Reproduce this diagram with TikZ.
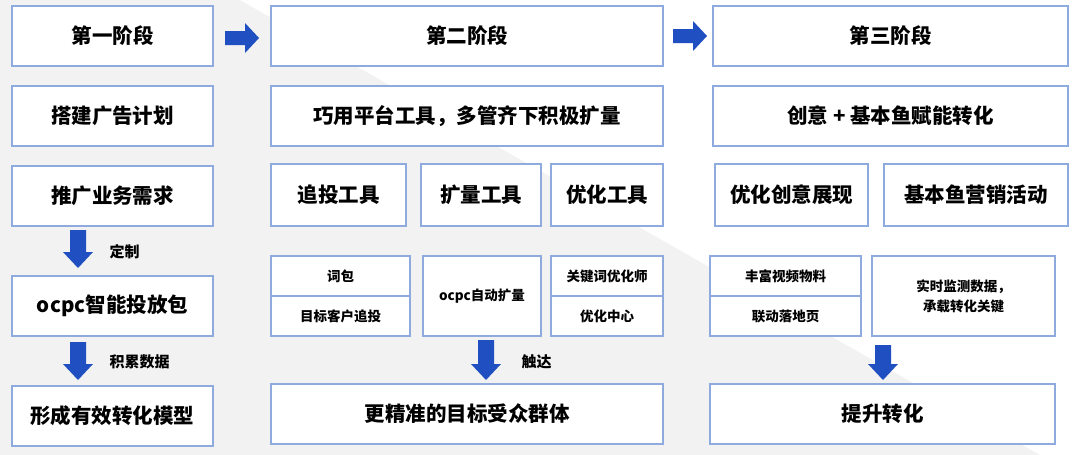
\documentclass[tikz,border=0pt]{standalone}
\usepackage{fontspec}
\setmainfont{Noto Sans CJK SC}[BoldFont={* Black}]
\definecolor{bd}{HTML}{8FAADC}
\definecolor{ar}{HTML}{1F4FC1}
\definecolor{bg}{HTML}{F2F2F2}
\begin{document}
\begin{tikzpicture}[x=1pt,y=-1pt,
  bx/.style={draw=bd,line width=1.2pt,fill=white},
  big/.style={font=\bfseries\fontsize{20.5}{24}\selectfont},
  sm/.style={font=\bfseries\fontsize{13.5}{16}\selectfont},
  lb/.style={font=\bfseries\fontsize{15}{16}\selectfont,anchor=west}]
\useasboundingbox (0,0) rectangle (1080,455);
\fill[bg] (0,0) rectangle (1080,455);
\fill[white] (240,0) -- (1080,0) -- (1080,455) -- (1040,455) -- cycle;
\newcommand\rarr[2]{\fill[ar] (#1,#2-7) -- (#1+20,#2-7) -- (#1+20,#2-15) -- (#1+34,#2) -- (#1+20,#2+15) -- (#1+20,#2+7) -- (#1,#2+7) -- cycle;}
\newcommand\darr[3]{\fill[ar] (#1-8,#2) -- (#1+8,#2) -- (#1+8,#3-16) -- (#1+15,#3-16) -- (#1,#3) -- (#1-15,#3-16) -- (#1-8,#3-16) -- cycle;}
% row 1
\node[bx,big,minimum width=201,minimum height=60] (s1) at (112.5,36) {第一阶段};
\node[bx,big,minimum width=392,minimum height=60] (s2) at (467,36) {第二阶段};
\node[bx,big,minimum width=355,minimum height=60] (s3) at (890.5,36) {第三阶段};
\rarr{225}{38}\rarr{673}{36}
% row 2
\node[bx,big,minimum width=201,minimum height=60] (a2) at (112.5,116) {搭建广告计划};
\node[bx,big,minimum width=392,minimum height=60] (b2) at (467,116) {巧用平台工具，多管齐下积极扩量};
\node[bx,big,minimum width=355,minimum height=60] (c2) at (890.5,116) {创意 + 基本鱼赋能转化};
% row 3
\node[bx,big,minimum width=201,minimum height=60] (a3) at (112.5,196) {推广业务需求};
\node[bx,big,minimum width=135,minimum height=62] (b3a) at (338.5,195) {追投工具};
\node[bx,big,minimum width=120,minimum height=62] (b3b) at (481,195) {扩量工具};
\node[bx,big,minimum width=112,minimum height=62] (b3c) at (607,195) {优化工具};
\node[bx,big,minimum width=153,minimum height=62] (c3a) at (791.5,195) {优化创意展现};
\node[bx,big,minimum width=184,minimum height=62] (c3b) at (976,195) {基本鱼营销活动};
% row 4
\node[bx,big,minimum width=201,minimum height=60] (a4) at (112.5,306) {ocpc智能投放包};
\node[bx,sm,minimum width=139,minimum height=40] (b4a) at (340.5,276) {词包};
\node[bx,sm,minimum width=139,minimum height=40] (b4b) at (340.5,316) {目标客户追投};
\node[bx,sm,minimum width=118,minimum height=80] (b4c) at (482,296) {ocpc自动扩量};
\node[bx,sm,minimum width=112,minimum height=40] (b4d) at (607,276) {关键词优化师};
\node[bx,sm,minimum width=112,minimum height=40] (b4e) at (607,316) {优化中心};
\node[bx,sm,minimum width=151,minimum height=40] (c4a) at (785.5,276) {丰富视频物料};
\node[bx,sm,minimum width=151,minimum height=40] (c4b) at (785.5,316) {联动落地页};
\node[bx,sm,minimum width=183,minimum height=80,align=center] (c4c) at (963.5,296) {实时监测数据，\\[4pt]承载转化关键};
% row 5
\node[bx,big,minimum width=201,minimum height=60] (a5) at (112.5,416) {形成有效转化模型};
\node[bx,big,minimum width=392,minimum height=60] (b5) at (467,414) {更精准的目标受众群体};
\node[bx,big,minimum width=345,minimum height=60] (c5) at (882.5,414) {提升转化};
% down arrows
\darr{78}{230}{268}\darr{78}{342}{380}\darr{486}{340}{380}\darr{883}{345}{380}
\node[lb] (l1) at (106,252) {定制};
\node[lb] (l2) at (106,362) {积累数据};
\node[lb] (l3) at (518,362) {触达};
\end{tikzpicture}
\end{document}
